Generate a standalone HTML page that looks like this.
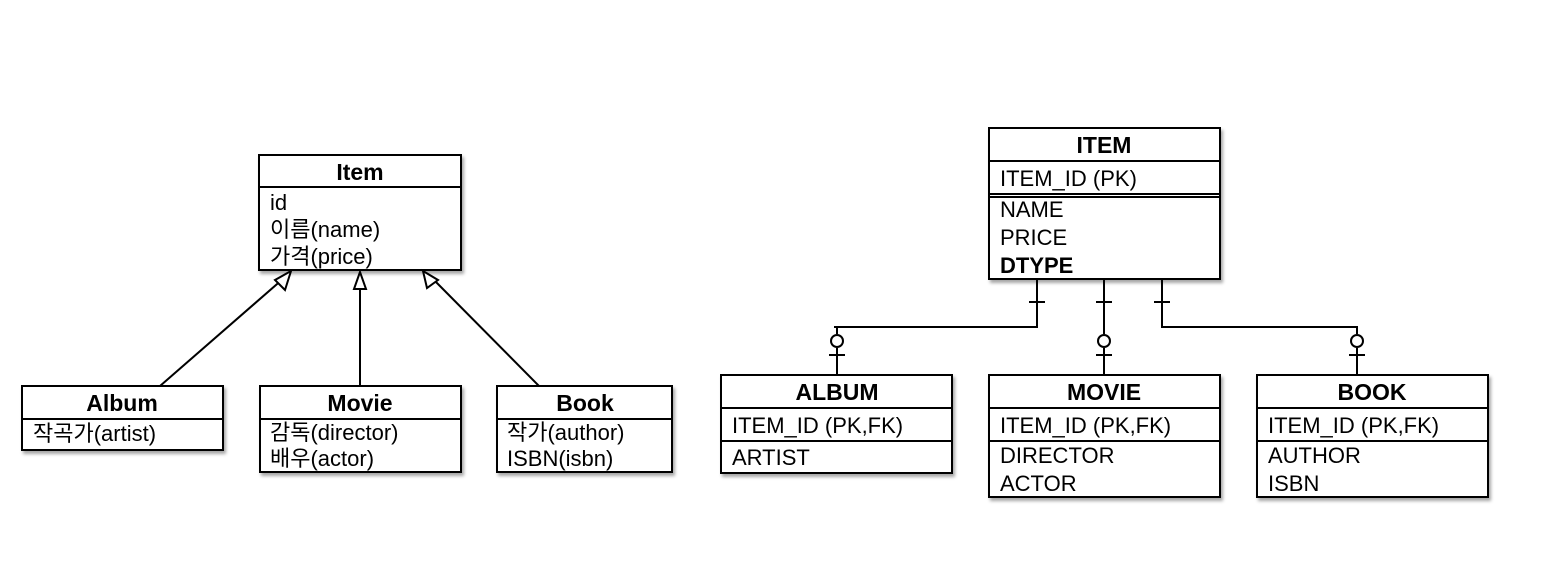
<!DOCTYPE html>
<html><head><meta charset="utf-8"><style>
html,body{margin:0;padding:0;background:#fff;}
svg text{font-family:"Liberation Sans","Noto Sans CJK KR",sans-serif;fill:#000;}
.t{font-size:23px;font-weight:bold;}
.a{font-size:22px;}
</style></head><body>
<svg width="1550" height="567" xmlns="http://www.w3.org/2000/svg">
<defs><filter id="sh" x="-5%" y="-5%" width="115%" height="120%"><feDropShadow dx="2" dy="3" stdDeviation="1.5" flood-color="#000" flood-opacity="0.35"/></filter></defs>
<g fill="#fff" stroke="#000" stroke-width="2">
<!-- left -->
<rect x="259" y="155" width="202" height="115" filter="url(#sh)"/>
<line x1="259" y1="187" x2="461" y2="187"/>
<rect x="22" y="386" width="201" height="64" filter="url(#sh)"/>
<line x1="22" y1="419" x2="223" y2="419"/>
<rect x="260" y="386" width="201" height="86" filter="url(#sh)"/>
<line x1="260" y1="419" x2="461" y2="419"/>
<rect x="497" y="386" width="175" height="86" filter="url(#sh)"/>
<line x1="497" y1="419" x2="672" y2="419"/>
<line x1="160" y1="386" x2="284" y2="278"/>
<polygon points="291,271 275,280 285,290" />
<line x1="360" y1="386" x2="360" y2="288"/>
<polygon points="360,272 354,289 366,289"/>
<line x1="539" y1="386" x2="432" y2="278"/>
<polygon points="423,271 427,288 438,280"/>
<!-- right -->
<rect x="989" y="128" width="231" height="151" filter="url(#sh)"/>
<line x1="989" y1="161" x2="1220" y2="161"/>
<line x1="989" y1="194" x2="1220" y2="194"/><line x1="989" y1="197" x2="1220" y2="197"/>
<rect x="721" y="375" width="231" height="98" filter="url(#sh)"/>
<line x1="721" y1="408" x2="952" y2="408"/><line x1="721" y1="441" x2="952" y2="441"/>
<rect x="989" y="375" width="231" height="122" filter="url(#sh)"/>
<line x1="989" y1="408" x2="1220" y2="408"/><line x1="989" y1="441" x2="1220" y2="441"/>
<rect x="1257" y="375" width="231" height="122" filter="url(#sh)"/>
<line x1="1257" y1="408" x2="1488" y2="408"/><line x1="1257" y1="441" x2="1488" y2="441"/>
<polyline fill="none" points="1037,279 1037,327 837,327 834,327 837,327 837,334"/>
<line x1="837" y1="348" x2="837" y2="375"/>
<circle cx="837" cy="341" r="6"/>
<line x1="829" y1="355" x2="845" y2="355"/>
<line x1="1029" y1="302" x2="1045" y2="302"/>
<line x1="1104" y1="279" x2="1104" y2="334"/>
<line x1="1104" y1="348" x2="1104" y2="375"/>
<circle cx="1104" cy="341" r="6"/>
<line x1="1096" y1="302" x2="1112" y2="302"/>
<line x1="1096" y1="355" x2="1112" y2="355"/>
<polyline fill="none" points="1162,279 1162,327 1357,327 1357,334"/>
<line x1="1357" y1="348" x2="1357" y2="375"/>
<circle cx="1357" cy="341" r="6"/>
<line x1="1154" y1="302" x2="1170" y2="302"/>
<line x1="1349" y1="355" x2="1365" y2="355"/>
</g>
<text class="t" x="360" y="180" text-anchor="middle">Item</text>
<text class="a" x="270" y="210">id</text>
<text class="a" x="270" y="237">이름(name)</text>
<text class="a" x="270" y="264">가격(price)</text>
<text class="t" x="122" y="411" text-anchor="middle">Album</text>
<text class="a" x="33" y="441">작곡가(artist)</text>
<text class="t" x="360" y="411" text-anchor="middle">Movie</text>
<text class="a" x="270" y="440">감독(director)</text>
<text class="a" x="270" y="466">배우(actor)</text>
<text class="t" x="585" y="411" text-anchor="middle">Book</text>
<text class="a" x="507" y="440">작가(author)</text>
<text class="a" x="507" y="466">ISBN(isbn)</text>
<text class="t" x="1104" y="153" text-anchor="middle">ITEM</text>
<text class="a" x="1000" y="186">ITEM_ID (PK)</text>
<text class="a" x="1000" y="217">NAME</text>
<text class="a" x="1000" y="245">PRICE</text>
<text class="a" x="1000" y="273" font-weight="bold">DTYPE</text>
<text class="t" x="837" y="400" text-anchor="middle">ALBUM</text>
<text class="a" x="732" y="433">ITEM_ID (PK,FK)</text>
<text class="a" x="732" y="465">ARTIST</text>
<text class="t" x="1104" y="400" text-anchor="middle">MOVIE</text>
<text class="a" x="1000" y="433">ITEM_ID (PK,FK)</text>
<text class="a" x="1000" y="463">DIRECTOR</text>
<text class="a" x="1000" y="491">ACTOR</text>
<text class="t" x="1372" y="400" text-anchor="middle">BOOK</text>
<text class="a" x="1268" y="433">ITEM_ID (PK,FK)</text>
<text class="a" x="1268" y="463">AUTHOR</text>
<text class="a" x="1268" y="491">ISBN</text>
</svg>
</body></html>
